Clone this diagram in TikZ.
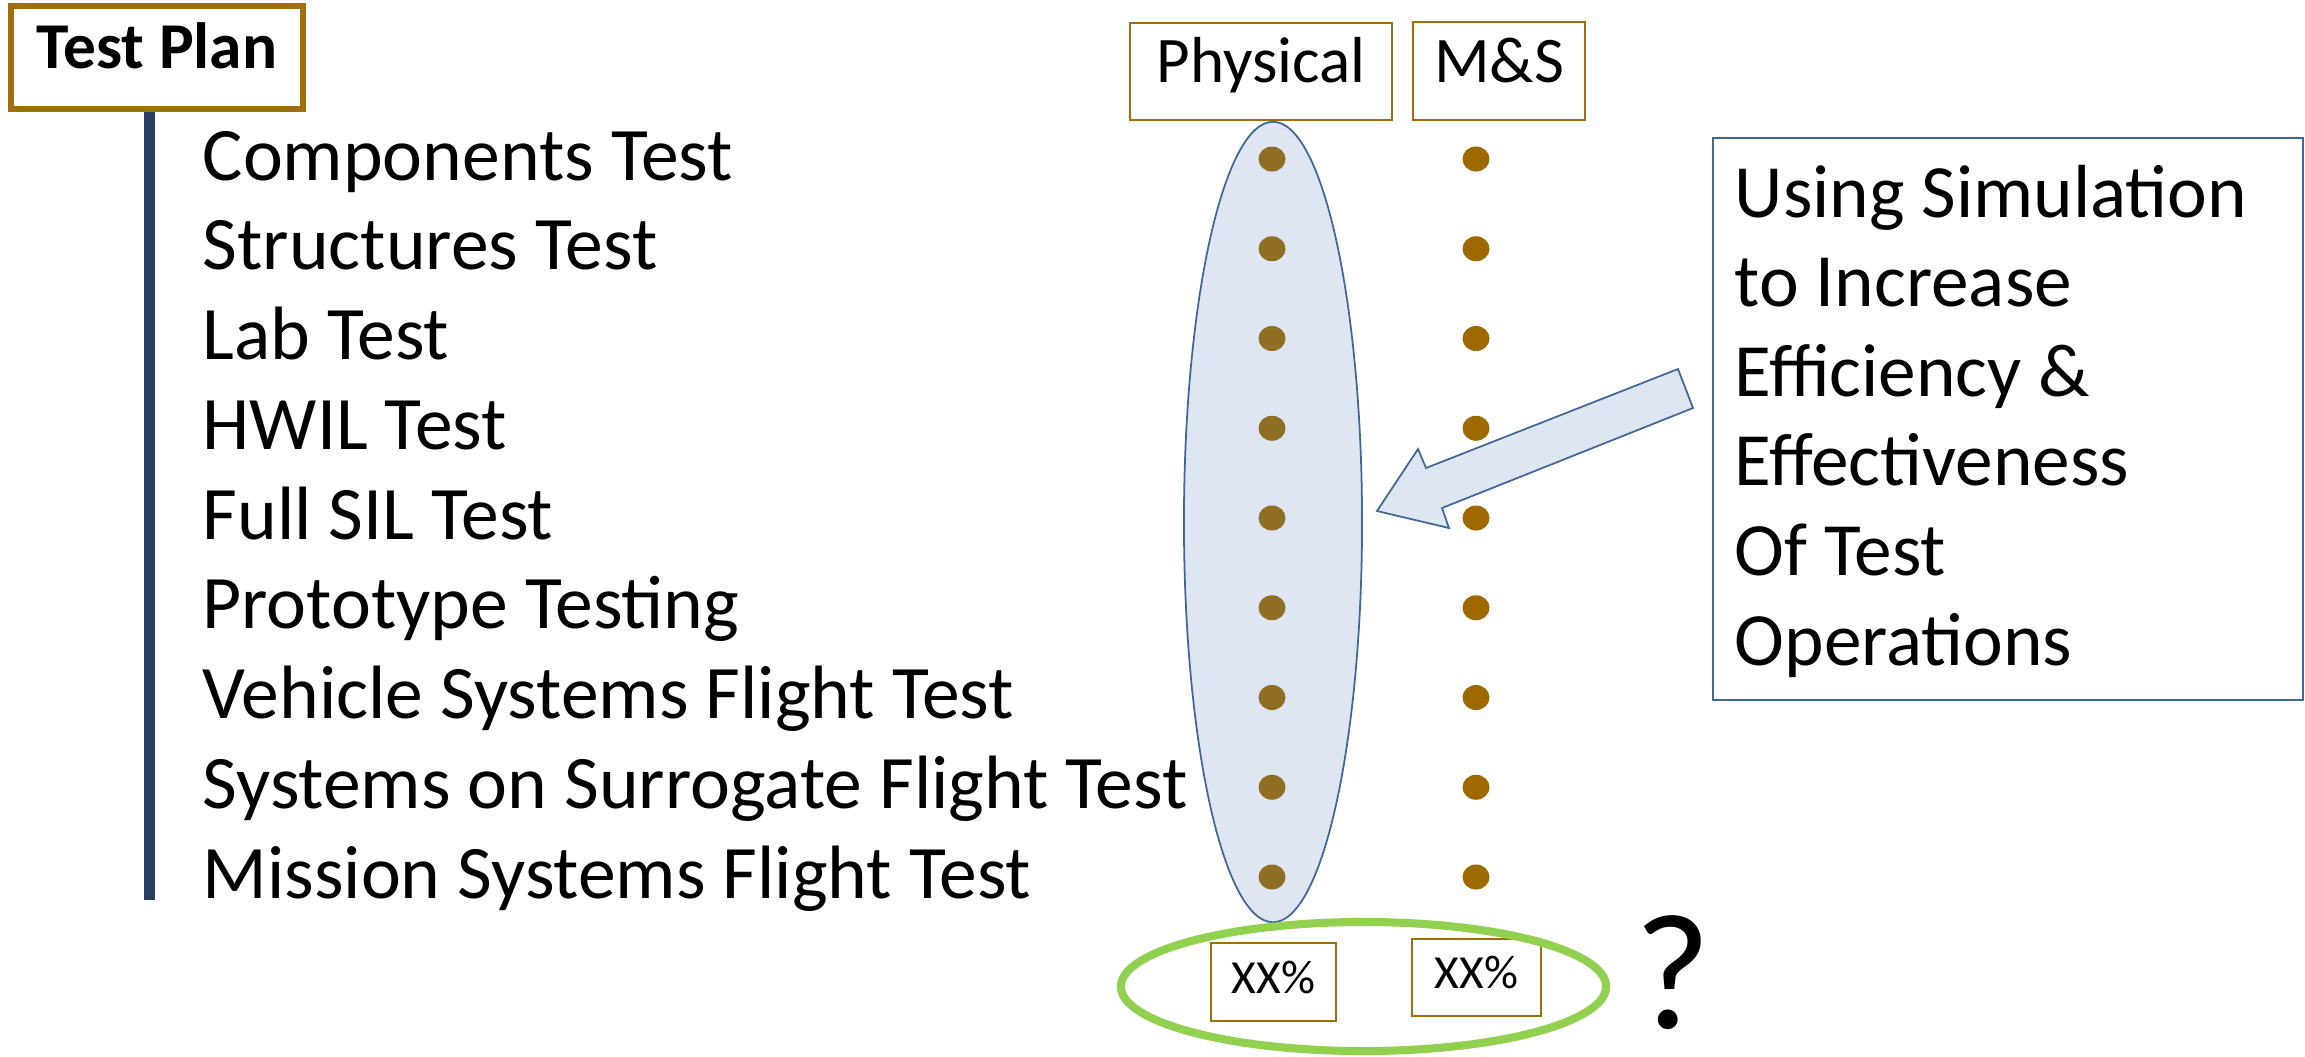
\documentclass[tikz,border=0pt]{standalone}
\usepackage{fontspec}
\setmainfont{Carlito}
\usetikzlibrary{shapes.geometric}
\definecolor{tpbrown}{RGB}{160,110,10}
\definecolor{navybar}{RGB}{38,62,96}
\definecolor{physdot}{RGB}{143,111,35}
\definecolor{msdot}{RGB}{158,106,0}
\definecolor{ellfill}{RGB}{222,230,241}
\definecolor{ellline}{RGB}{65,103,154}
\definecolor{greenring}{RGB}{146,208,80}
\tikzset{
  listtext/.style={anchor=base west, inner sep=0pt, font=\fontsize{21.5pt}{26pt}\selectfont},
  hdrbox/.style={draw=tpbrown, line width=0.6pt, fill=white, inner sep=0pt, text height=0.63em, text depth=0pt, font=\fontsize{18.5pt}{22pt}\selectfont},
  pctbox/.style={draw=tpbrown, line width=0.6pt, fill=white, inner sep=0pt, minimum width=1.25cm, minimum height=0.78cm, text height=0.63em, text depth=0pt, font=\fontsize{13.5pt}{16pt}\selectfont},
  pdot/.style={ellipse, fill=physdot, minimum width=0.27cm, minimum height=0.25cm, inner sep=0pt},
  mdot/.style={ellipse, fill=msdot, minimum width=0.27cm, minimum height=0.25cm, inner sep=0pt},
  sidetext/.style={anchor=base west, inner sep=0pt, font=\fontsize{21.4pt}{26pt}\selectfont}
}
\begin{document}
\begin{tikzpicture}[x=0.01cm,y=-0.01cm]
\useasboundingbox (0,0) rectangle (2305,1056);
% vertical bar
\coordinate (bartop) at (149.5,110);
\coordinate (barbot) at (149.5,900);
\draw[navybar, line width=3.1pt] (bartop) -- (barbot);
% Test Plan box
\node[draw=tpbrown, line width=1.7pt, fill=white, minimum width=2.92cm, minimum height=1.03cm, inner sep=0pt, text height=0.63em, text depth=0pt, font=\fontsize{18.6pt}{22pt}\selectfont\bfseries] (tp) at (157,57.5) {Test Plan};
% list
\foreach \t [count=\i from 0] in {Components Test,Structures Test,Lab Test,HWIL Test,Full SIL Test,Prototype Testing,Vehicle Systems Flight Test,Systems on Surrogate Flight Test,Mission Systems Flight Test}{
  \node[listtext] (item\i) at (202,{180+89.75*\i}) {\t};
}
% physical ellipse
\node[ellipse, draw=ellline, line width=0.5pt, fill=ellfill, minimum width=1.78cm, minimum height=8.0cm, inner sep=0pt] (physell) at (1273,522) {};
% header boxes
\node[hdrbox, minimum width=2.62cm, minimum height=0.97cm] (phys) at (1261,71.5) {Physical};
\node[hdrbox, minimum width=1.72cm, minimum height=0.98cm] (ms) at (1499,71) {M\&S};
% dots
\foreach \i in {0,...,8}{
  \node[pdot] (pd\i) at (1272,{159+89.75*\i}) {};
  \node[mdot] (md\i) at (1476,{159+89.75*\i}) {};
}
% arrow
\coordinate (a1) at (1377,511);
\coordinate (a2) at (1418,449);
\coordinate (a3) at (1426,468);
\coordinate (a4) at (1678,369);
\coordinate (a5) at (1693,408);
\coordinate (a6) at (1442,508);
\coordinate (a7) at (1449,528);
\draw[draw=ellline, line width=0.5pt, fill=ellfill, line join=miter] (a1) -- (a2) -- (a3) -- (a4) -- (a5) -- (a6) -- (a7) -- cycle;
% right text box
\node[draw=ellline, line width=0.6pt, fill=white, minimum width=5.9cm, minimum height=5.62cm, inner sep=0pt] (sidebox) at (2008,419) {};
\foreach \t [count=\i from 0] in {Using Simulation,to Increase,Efficiency \&,Effectiveness,Of Test,Operations}{
  \node[sidetext] (side\i) at (1734,{217+89.6*\i}) {\t};
}
% percent boxes and green ring
\node[pctbox] (pctl) at (1273.5,982) {XX\%};
\node[pctbox, minimum width=1.29cm, minimum height=0.77cm] (pctr) at (1476.5,977.5) {XX\%};
\node[ellipse, draw=greenring, line width=2.3pt, minimum width=4.85cm, minimum height=1.29cm, inner sep=0pt] (ring) at (1363.5,986.5) {};
\node[anchor=base, inner sep=0pt, font=\fontsize{47pt}{50pt}\selectfont] (qm) at (1673,1028) {?};
\end{tikzpicture}
\end{document}
